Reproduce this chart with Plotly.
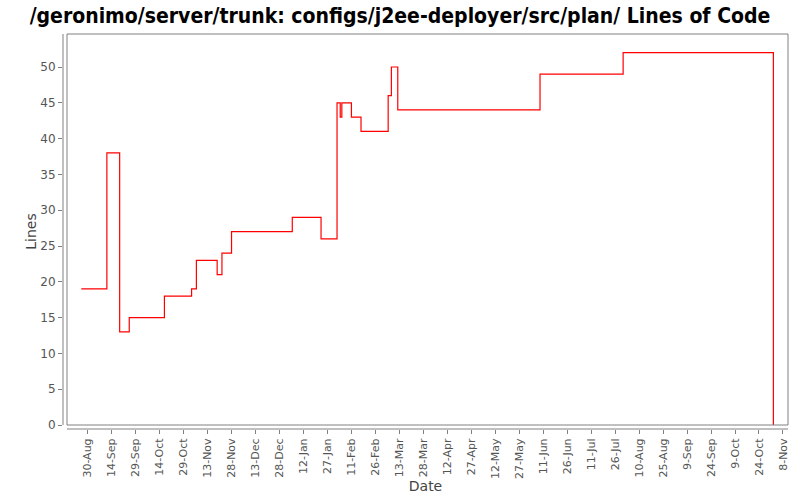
import pandas as pd
import plotly.graph_objects as go

# ---- data ----
dates = ["2006-08-26", "2006-09-11", "2006-09-19", "2006-09-25", "2006-10-17",
         "2006-11-03", "2006-11-06", "2006-11-19", "2006-11-22", "2006-11-28",
         "2007-01-05", "2007-01-23", "2007-02-02", "2007-02-04", "2007-02-05",
         "2007-02-11", "2007-02-17", "2007-03-06", "2007-03-08", "2007-03-12",
         "2007-06-09", "2007-07-31", "2007-11-02"]
lines = [19, 38, 13, 15, 18,
         19, 23, 21, 24, 27,
         29, 26, 45, 43, 45,
         43, 41, 46, 50, 44,
         49, 52, 0]

tick_start = "2006-08-30"
tick_end = "2007-11-08"
tick_step_days = 15
y_ticks = [0, 5, 10, 15, 20, 25, 30, 35, 40, 45, 50]

title_text = "/geronimo/server/trunk: configs/j2ee-deployer/src/plan/ Lines of Code"

# ---- build figure ----
x_dates = pd.to_datetime(dates)
tickvals = pd.date_range(tick_start, tick_end, freq=f"{tick_step_days}D")
ticktext = [f"{d.day}-{d.strftime('%b')}" for d in tickvals]

t0 = pd.Timestamp(tick_start)
x_range = [t0 + pd.Timedelta(days=-15.45), t0 + pd.Timedelta(days=438.15)]
y_range = [-0.559, 54.61]

W, H = 800, 500
ml, mr, mt, mb = 63, 12, 34, 71
pw, ph = W - ml - mr, H - mt - mb
gray = "#808080"

fig = go.Figure()
fig.add_trace(go.Scatter(
    x=x_dates, y=lines, mode="lines", line_shape="hv",
    line=dict(color="#FF0000", width=1.2), showlegend=False,
    hoverinfo="x+y"))

font_family = "DejaVu Sans, Verdana, sans-serif"

fig.update_layout(
    width=W, height=H, autosize=False,
    margin=dict(l=ml, r=mr, t=mt, b=mb, pad=0),
    paper_bgcolor="white", plot_bgcolor="white",
    title=dict(text="<b>" + title_text + "</b>", x=0.5, xanchor="center",
               y=1 - 16 / H, yanchor="middle",
               font=dict(family="DejaVu Sans Condensed, Liberation Sans Narrow, DejaVu Sans, sans-serif",
                         size=21, color="#000000")),
    xaxis=dict(
        type="date", range=x_range, tickmode="array", automargin=False,
        tickvals=tickvals, ticktext=ticktext, tickangle=-90,
        showgrid=False, zeroline=False, showline=False,
        ticks="outside", ticklen=4, tickcolor=gray, tickwidth=1,
        tickfont=dict(family=font_family, size=11, color="#555555"),
        title=dict(text="Date", standoff=3,
                   font=dict(family=font_family, size=14, color="#444444")),
    ),
    yaxis=dict(
        range=y_range, tickmode="array", tickvals=y_ticks, automargin=False,
        showgrid=False, zeroline=False, showline=False,
        ticks="outside", ticklen=4, tickcolor=gray, tickwidth=1,
        tickfont=dict(family=font_family, size=12, color="#555555"),
        title=dict(text="Lines", standoff=0,
                   font=dict(family=font_family, size=14, color="#444444")),
    ),
)

fx = 4 / pw
fy = 4 / ph
fig.add_shape(type="rect", xref="paper", yref="paper", x0=fx, y0=fy, x1=1, y1=1,
              line=dict(color=gray, width=1), fillcolor="rgba(0,0,0,0)", layer="above")
fig.add_shape(type="line", xref="paper", yref="paper", x0=0, y0=fy, x1=0, y1=1,
              line=dict(color=gray, width=1), layer="above")
fig.add_shape(type="line", xref="paper", yref="paper", x0=fx, y0=0, x1=1, y1=0,
              line=dict(color=gray, width=1), layer="above")

fig.write_html("out.html")
